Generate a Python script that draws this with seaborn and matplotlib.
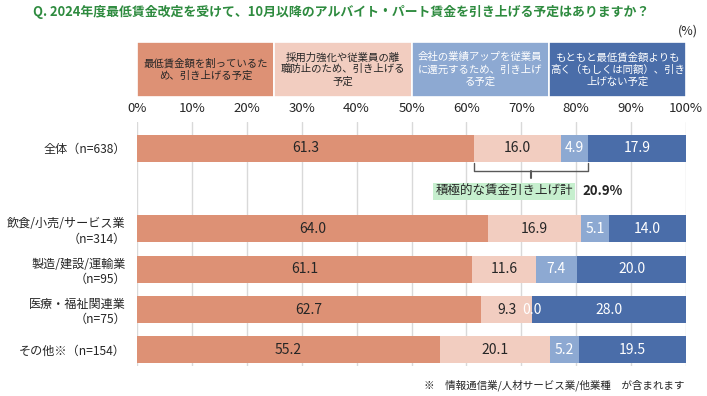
import numpy as np
import pandas as pd
import matplotlib.pyplot as plt
import seaborn as sns

# data
groups = ["全体（n=638）", "飲食/小売/サービス業\n（n=314）", "製造/建設/運輸業\n（n=95）",
          "医療・福祉関連業\n（n=75）", "その他※（n=154）"]
group_pos = [0, 2, 3, 4, 5]
below_min = [61.3, 64.0, 61.1, 62.7, 55.2]
retention = [16.0, 16.9, 11.6, 9.3, 20.1]
profit = [4.9, 5.1, 7.4, 0.0, 5.2]
no_raise = [17.9, 14.0, 20.0, 28.0, 19.5]
series_labels = ["最低賃金額を割っているた\nめ、引き上げる予定",
                 "採用力強化や従業員の離\n職防止のため、引き上げる\n予定",
                 "会社の業績アップを従業員\nに還元するため、引き上げ\nる予定",
                 "もともと最低賃金額よりも\n高く（もしくは同額）、引き\n上げない予定"]
xticks = list(range(0, 101, 10))

colors = ["#DD9175", "#F2CDC0", "#8DA9D2", "#4A6DA9"]
text_colors = ["#262626", "#262626", "white", "white"]
title = "Q. 2024年度最低賃金改定を受けて、10月以降のアルバイト・パート賃金を引き上げる予定はありますか？"
note = "※　情報通信業/人材サービス業/他業種　が含まれます"

sns.set_theme(style="white")
plt.rcParams['font.family'] = ['Noto Sans CJK JP', 'DejaVu Sans']

series = [below_min, retention, profit, no_raise]
vals = np.array(series)
cum = vals.cumsum(axis=0)
df = pd.DataFrame({"pos": group_pos})
for i in range(4):
    df[f"c{i}"] = cum[i]

fig = plt.figure(figsize=(7.07, 3.96), dpi=100)
W, H = 707, 396
left_px, right_px, top_px, bot_px = 137, 686, 122, 366
ax = fig.add_axes([left_px / W, 1 - bot_px / H, (right_px - left_px) / W, (bot_px - top_px) / H])

# stacked bars: draw cumulative totals, largest first
for i in [3, 2, 1, 0]:
    sns.barplot(data=df, x=f"c{i}", y="pos", orient="h", native_scale=True, width=0.67,
                color=colors[i], saturation=1, errorbar=None, linewidth=0, ax=ax)

for i in range(4):
    for j, p in enumerate(group_pos):
        v = vals[i, j]
        ax.text(cum[i, j] - v / 2, p, f"{v:.1f}", ha="center", va="center",
                fontsize=10, color=text_colors[i])

ax.set_xlim(0, 100)
ax.set_ylim(5.4, -0.65)
ax.xaxis.tick_top()
ax.set_xticks(xticks)
ax.set_xticklabels([f"{t}%" for t in xticks], fontsize=9.5, color="#262626")
ax.set_yticks(group_pos)
ax.set_yticklabels(groups, fontsize=8.7, color="#262626", multialignment="right")
ax.tick_params(axis="x", length=0, pad=5)
ax.tick_params(axis="y", length=0, pad=8)
ax.set_xlabel("")
ax.set_ylabel("")
ax.grid(axis="x", color="#D9D9D9", linewidth=1)
ax.set_axisbelow(True)
for s in ax.spines.values():
    s.set_visible(False)

# bracket for active raises on the overall row
bl = cum[0, 0]
br = cum[2, 0]
bm = (bl + br) / 2
ax.plot([bl, bl, br, br], [0.37, 0.57, 0.57, 0.37], color="#595959", lw=1, clip_on=False)
ax.plot([bm, bm], [0.57, 0.73], color="#595959", lw=1.5, clip_on=False)
ax.text(br - 2.8, 1.07, "積極的な賃金引き上げ計", ha="right", va="center", fontsize=9,
        color="#262626", bbox=dict(facecolor="#C6EFCE", edgecolor="none", pad=1.5))
ax.text(br - 1.0, 1.07, f"{retention[0] + profit[0]:.1f}%", ha="left", va="center",
        fontsize=9.5, fontweight="bold", color="#262626")

# legend boxes on top
hax = fig.add_axes([left_px / W, 1 - 97 / H, (right_px - left_px) / W, 55 / H])
for i, lab in enumerate(series_labels):
    hax.barh(0, 25, left=i * 25, height=1, color=colors[i], edgecolor="white", linewidth=1.2)
    hax.text(i * 25 + 12.5, 0, lab, ha="center", va="center", fontsize=7.5,
             color=text_colors[i], linespacing=1.25)
hax.set_xlim(0, 100)
hax.set_ylim(-0.5, 0.5)
hax.axis("off")

fig.text(33 / W, 1 - 12 / H, title, ha="left", va="center", fontsize=9.3,
         fontweight="bold", color="#2E8B3F")
fig.text(698 / W, 1 - 31 / H, "(%)", ha="right", va="center", fontsize=9, color="#262626")
fig.text(684 / W, 1 - 385 / H, note, ha="right", va="center", fontsize=7.6, color="#262626")

fig.savefig("out.png", dpi=100)
